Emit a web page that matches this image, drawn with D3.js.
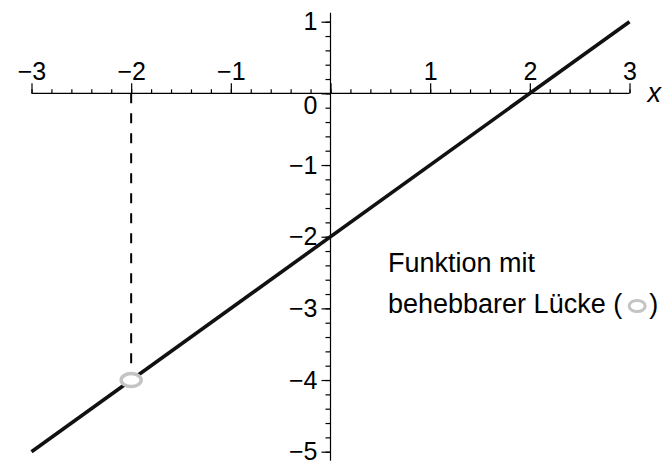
<!DOCTYPE html>
<html>
<head>
<meta charset="utf-8">
<script src="https://cdn.jsdelivr.net/npm/d3@7"></script>
<style>
  html, body { margin: 0; padding: 0; background: #fff; }
  svg text { font-family: "Liberation Sans", Arial, Helvetica, sans-serif; fill: #000; }
</style>
</head>
<body>
<svg id="chart" width="665" height="461"></svg>
<script>
// f(x) = (x^2 - 4) / (x + 2) with a removable gap at x = -2
const lineX = [-3, 3];
const lineY = [-5, 1];
const holeX = -2;
const holeY = -4;
const xMajorTicks = [-3, -2, -1, 0, 1, 2, 3];
const yMajorTicks = [1, 0, -1, -2, -3, -4, -5];
const xMinorTicks = d3.range(-3, 3.0001, 0.2).map(v => +v.toFixed(1));
const yMinorTicks = d3.range(-5, 1.0001, 0.2).map(v => +v.toFixed(1));
const noteLines = ["Funktion mit", "behebbarer Lücke ("];
const noteClose = ")";
const axisName = "x";

const svg = d3.select("#chart");

const x = d3.scaleLinear().domain([-3, 3]).range([31.5, 629.5]);
const y = d3.scaleLinear().domain([-5, 1]).range([451.7, 21.7]);

const fmt = d => d3.format("d")(d);
const tickFont = 25;

// x axis (ticks point up, labels above)
const gx = svg.append("g").attr("transform", `translate(0,${y(0)})`);
gx.call(d3.axisTop(x).tickValues(xMinorTicks).tickSize(4).tickSizeOuter(0).tickFormat(""));
gx.call(g => g.select(".domain").remove());
const gxMaj = svg.append("g").attr("transform", `translate(0,${y(0)})`);
gxMaj.call(d3.axisTop(x).tickValues(xMajorTicks).tickSize(10).tickSizeOuter(0).tickPadding(3).tickFormat(fmt));
gxMaj.select(".domain").attr("d", `M${x(-3)},0H${x(3)}`);
gxMaj.selectAll(".tick text").attr("font-size", tickFont).attr("font-family", null)
  .filter(d => d === 0).remove();

// y axis (ticks point left, labels left)
const gy = svg.append("g").attr("transform", `translate(${x(0)},0)`);
gy.call(d3.axisLeft(y).tickValues(yMinorTicks).tickSize(5).tickSizeOuter(0).tickFormat(""));
gy.call(g => g.select(".domain").remove());
const gyMaj = svg.append("g").attr("transform", `translate(${x(0)},0)`);
gyMaj.call(d3.axisLeft(y).tickValues(yMajorTicks).tickSize(9).tickSizeOuter(0).tickPadding(4).tickFormat(fmt));
gyMaj.select(".domain").attr("d", `M0,${y(1) - 9}V${y(-5) + 9}`);
gyMaj.selectAll(".tick text").attr("font-size", tickFont).attr("font-family", null);
gyMaj.selectAll(".tick").filter(d => d === 0).select("text").attr("y", 12).attr("x", -13);

svg.selectAll(".domain, .tick line").attr("stroke", "#000").attr("stroke-width", 1.2);

// axis name
svg.append("text")
  .attr("x", x(3) + 18).attr("y", y(0) + 9)
  .attr("font-size", 27).attr("font-style", "italic")
  .text(axisName);

// dashed guide from the axis down to the gap
svg.append("line")
  .attr("x1", x(holeX)).attr("x2", x(holeX))
  .attr("y1", y(0)).attr("y2", y(holeY))
  .attr("stroke", "#000").attr("stroke-width", 2)
  .attr("stroke-dasharray", "10,10");

// the function graph
svg.append("path")
  .datum(lineX.map((v, i) => [v, lineY[i]]))
  .attr("d", d3.line().x(d => x(d[0])).y(d => y(d[1])))
  .attr("fill", "none").attr("stroke", "#111").attr("stroke-width", 3.6);

// open marker at the gap
svg.append("ellipse")
  .attr("cx", x(holeX)).attr("cy", y(holeY))
  .attr("rx", 10).attr("ry", 6.5)
  .attr("fill", "#fff").attr("stroke", "#c4c4c4").attr("stroke-width", 3.5);

// annotation
const note = svg.append("g").attr("font-size", 27);
note.append("text").attr("x", 388).attr("y", 272).text(noteLines[0]);
const t2 = note.append("text").attr("x", 388).attr("y", 313).text(noteLines[1]);
const end2 = 388 + t2.node().getComputedTextLength();
note.append("ellipse")
  .attr("cx", end2 + 15).attr("cy", 306)
  .attr("rx", 8).attr("ry", 5.5)
  .attr("fill", "#fff").attr("stroke", "#c4c4c4").attr("stroke-width", 3);
note.append("text").attr("x", end2 + 27).attr("y", 313).text(noteClose);
</script>
</body>
</html>
